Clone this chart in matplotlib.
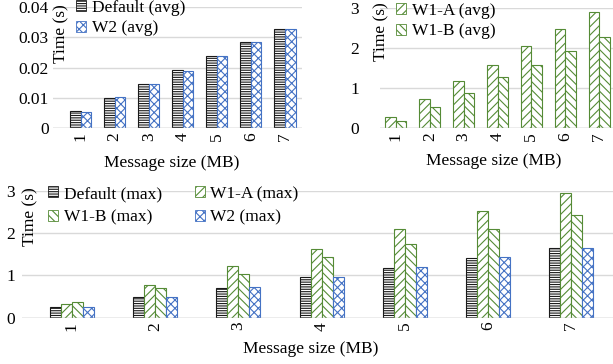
import numpy as np
import matplotlib
matplotlib.use("Agg")
import matplotlib.pyplot as plt
from matplotlib.patches import Patch

sizes = [1, 2, 3, 4, 5, 6, 7]
size_labels = ["1", "2", "3", "4", "5", "6", "7"]

# average times (s)
default_avg = [0.0055, 0.0100, 0.0145, 0.0192, 0.0237, 0.0283, 0.0328]
w2_avg = [0.0054, 0.0102, 0.0145, 0.0190, 0.0237, 0.0284, 0.0326]
w1a_avg = [0.28, 0.72, 1.18, 1.58, 2.05, 2.47, 2.91]
w1b_avg = [0.18, 0.53, 0.87, 1.27, 1.58, 1.93, 2.27]

# max times (s)
default_max = [0.25, 0.48, 0.69, 0.95, 1.17, 1.40, 1.65]
w1a_max = [0.32, 0.77, 1.23, 1.62, 2.10, 2.51, 2.94]
w1b_max = [0.36, 0.71, 1.04, 1.44, 1.73, 2.10, 2.43]
w2_max = [0.25, 0.48, 0.72, 0.96, 1.19, 1.43, 1.65]

plt.rcParams['font.family'] = ['Liberation Serif', 'DejaVu Serif']
plt.rcParams['font.size'] = 12.5
plt.rcParams['hatch.linewidth'] = 0.8

BLACK = '#1a1a1a'
GREEN = '#558b36'
BLUE = '#4472C4'
GRID = '#d9d9d9'

styles = {
    'Default': dict(facecolor='white', edgecolor=BLACK, hatch='-------'),
    'W1-A': dict(facecolor='white', edgecolor=GREEN, hatch='////'),
    'W1-B': dict(facecolor='white', edgecolor=GREEN, hatch='\\\\\\\\'),
    'W2': dict(facecolor='white', edgecolor=BLUE, hatch='xxxx'),
}

W, H = 613, 364
fig = plt.figure(figsize=(W / 100, H / 100), dpi=100)


def px_axes(left, right, top, bottom):
    return fig.add_axes([left / W, 1 - bottom / H, (right - left) / W, (bottom - top) / H])


def style_axes(ax, ylim, yticks, yfmt, ypad):
    ax.set_ylim(*ylim)
    ax.set_yticks(yticks)
    ax.set_yticklabels([yfmt(v) for v in yticks])
    ax.set_xticks(sizes)
    ax.set_xticklabels(size_labels, rotation=90)
    for s in ax.spines.values():
        s.set_visible(False)
    ax.tick_params(axis='both', length=0)
    ax.tick_params(axis='x', pad=3)
    ax.tick_params(axis='y', pad=ypad)
    ax.yaxis.grid(True, color=GRID, linewidth=1)
    ax.set_axisbelow(True)
    ax.axhline(0, color='#bfbfbf', linewidth=1, zorder=1)


x = np.array(sizes, dtype=float)

# top left: Default vs W2 average
ax1 = px_axes(53, 302, 7, 128)
bw = 0.31
ax1.bar(x - bw / 2, default_avg, bw, linewidth=0.8, **styles['Default'])
ax1.bar(x + bw / 2, w2_avg, bw, linewidth=0.8, **styles['W2'])
ax1.set_xlim(0.19, 7.5)
style_axes(ax1, (0, 0.04), [0, 0.01, 0.02, 0.03, 0.04],
           lambda v: '0' if v == 0 else f'{v:.2f}', 3)

# top right: W1-A vs W1-B average
ax2 = px_axes(380, 613, 8, 128)
ax2.bar(x - bw / 2, w1a_avg, bw, linewidth=0.8, **styles['W1-A'])
ax2.bar(x + bw / 2, w1b_avg, bw, linewidth=0.8, **styles['W1-B'])
ax2.set_xlim(0.53, 7.41)
style_axes(ax2, (0, 3), [0, 1, 2, 3], lambda v: f'{v:g}', 15)

# bottom: max times, all four
ax3 = px_axes(22, 613, 190.7, 317.7)
bw3 = 0.132
ax3.bar(x - 1.5 * bw3, default_max, bw3, linewidth=0.8, **styles['Default'])
ax3.bar(x - 0.5 * bw3, w1a_max, bw3, linewidth=0.8, **styles['W1-A'])
ax3.bar(x + 0.5 * bw3, w1b_max, bw3, linewidth=0.8, **styles['W1-B'])
ax3.bar(x + 1.5 * bw3, w2_max, bw3, linewidth=0.8, **styles['W2'])
ax3.set_xlim(0.403, 7.5)
style_axes(ax3, (0, 3), [0, 1, 2, 3], lambda v: f'{v:g}', 5)

# axis titles
for xp, yp in [(61, 34), (381, 32), (30, 217)]:
    fig.text(xp / W, 1 - yp / H, 'Time (s)', rotation=90, ha='center', va='center')
for xp, yp in [(172, 163), (494, 161), (311, 349)]:
    fig.text(xp / W, 1 - yp / H, 'Message size (MB)', ha='center', va='center')


def handle(name):
    return Patch(linewidth=0.6, **styles[name])


leg_kw = dict(frameon=False, handlelength=0.6, handleheight=0.6,
              handletextpad=0.3, borderpad=0, borderaxespad=0)

fig.legend([handle('Default'), handle('W2')], ['Default (avg)', 'W2 (avg)'],
           loc='upper left', bbox_to_anchor=(76 / W, 1 - 0 / H),
           labelspacing=0.25, **leg_kw)
fig.legend([handle('W1-A'), handle('W1-B')], ['W1-A (avg)', 'W1-B (avg)'],
           loc='upper left', bbox_to_anchor=(396 / W, 1 - 3 / H),
           labelspacing=0.25, **leg_kw)
fig.legend([handle('Default'), handle('W1-B'), handle('W1-A'), handle('W2')],
           ['Default (max)', 'W1-B (max)', 'W1-A (max)', 'W2 (max)'],
           loc='upper left', bbox_to_anchor=(48 / W, 1 - 186 / H), ncol=2,
           labelspacing=0.45, columnspacing=1.9, **leg_kw)

fig.savefig('out.png', dpi=100)
